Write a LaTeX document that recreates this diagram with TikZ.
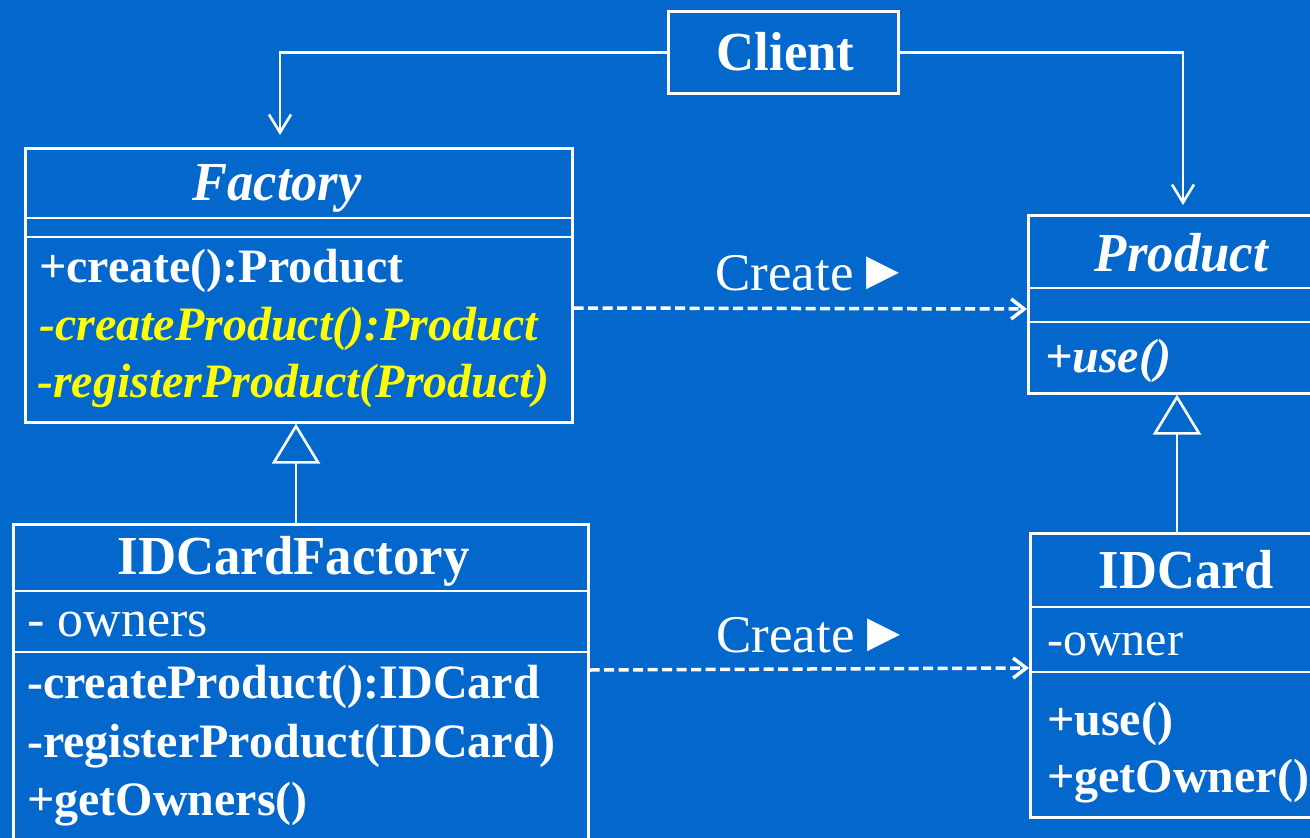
\documentclass[tikz,border=0pt]{standalone}
\usepackage{fontspec}
\usepackage{graphicx}
\setmainfont{Liberation Serif}
\newfontfamily\symfont{DejaVu Sans}
\usetikzlibrary{arrows.meta}
\definecolor{bg}{RGB}{3,103,204}
\definecolor{yel}{RGB}{255,255,0}
\newcommand{\rtri}{\raisebox{6pt}{\symfont\fontsize{43}{43}\selectfont ▶}}
\begin{document}
\begin{tikzpicture}[x=1pt,y=-1pt,
  box/.style={draw=white, line width=2.6pt, inner sep=0pt, anchor=north west},
  sep/.style={draw=white, line width=2.6pt},
  ttl/.style={font=\fontsize{55}{60}\selectfont\bfseries, text=white, anchor=base, inner sep=0pt},
  meth/.style={font=\fontsize{48}{56}\selectfont\bfseries, text=white, anchor=base west, inner sep=0pt},
  absmeth/.style={meth, font=\fontsize{48}{56}\selectfont\bfseries\itshape, text=yel},
  attr/.style={font=\fontsize{52}{60}\selectfont, text=white, anchor=base west, inner sep=0pt},
  lbl/.style={font=\fontsize{53}{60}\selectfont, text=white, anchor=base west, inner sep=0pt},
  assoc/.style={draw=white, line width=2.6pt, -{Straight Barb[length=18pt,width=22pt]}},
  dep/.style={draw=white, line width=3.5pt, dash pattern=on 10pt off 4.5pt, -{Straight Barb[length=13pt,width=20pt]}},
  inherit/.style={draw=white, line width=2.6pt, -{Triangle[open,length=40pt,width=48pt]}}
]
\useasboundingbox (0,0) rectangle (1310,838);
\fill[bg] (0,0) rectangle (1310,838);
\clip (0,0) rectangle (1310,838);

% Client
\node[box, minimum width=230pt, minimum height=82pt] (client) at (667,10) {};
\node[ttl] (clientt) at (785.5,70) {\scalebox{0.96}[1]{Client}};

% Factory
\node[box, minimum width=547pt, minimum height=274pt] (factory) at (24,147) {};
\draw[sep] (factory.west |- 0,218) -- (factory.east |- 0,218);
\draw[sep] (factory.west |- 0,237) -- (factory.east |- 0,237);
\node[ttl, font=\fontsize{55}{60}\selectfont\bfseries\itshape] (factoryt) at (277,200) {\scalebox{0.955}[1]{Factory}};
\node[meth] (f1) at (39,282) {+create():Product};
\node[absmeth] (f2) at (39,340) {-createProduct():Product};
\node[absmeth] (f3) at (37,397) {-registerProduct(Product)};

% IDCardFactory
\node[box, minimum width=575pt, minimum height=335pt] (idf) at (12,523) {};
\draw[sep] (idf.west |- 0,591) -- (idf.east |- 0,591);
\draw[sep] (idf.west |- 0,652) -- (idf.east |- 0,652);
\node[ttl] (idft) at (293.5,574) {\scalebox{0.96}[1]{IDCardFactory}};
\node[attr] (idfa) at (27,636) {- owners};
\node[meth] (idf1) at (27,698) {-createProduct():IDCard};
\node[meth] (idf2) at (27,757) {-registerProduct(IDCard)};
\node[meth] (idf3) at (27,815) {+getOwners()};

% Product
\node[box, minimum width=308pt, minimum height=178pt] (product) at (1027,214) {};
\draw[sep] (product.west |- 0,288) -- (product.east |- 0,288);
\draw[sep] (product.west |- 0,322) -- (product.east |- 0,322);
\node[ttl, font=\fontsize{55}{60}\selectfont\bfseries\itshape] (productt) at (1181.5,271) {\scalebox{0.96}[1]{Product}};
\node[meth, font=\fontsize{48}{56}\selectfont\bfseries\itshape] (p1) at (1045,372) {+use()};

% IDCard
\node[box, minimum width=314pt, minimum height=284pt] (idcard) at (1029,532) {};
\draw[sep] (idcard.west |- 0,607) -- (idcard.east |- 0,607);
\draw[sep] (idcard.west |- 0,672) -- (idcard.east |- 0,672);
\node[ttl] (idcardt) at (1186.5,588) {\scalebox{0.955}[1]{IDCard}};
\node[attr, font=\fontsize{48}{56}\selectfont] (ida) at (1047,655) {-owner};
\node[meth] (id1) at (1047,735) {+use()};
\node[meth] (id2) at (1047,792) {+getOwner()};

% associations from Client
\coordinate (fa) at (280,135);
\coordinate (pa) at (1183,205);
\draw[assoc] (client.west) -| (fa);
\draw[assoc] (client.east) -| (pa);

% dependencies
\draw[dep] (factory.east |- 0,308) -- (product.west |- 0,309);
\node[lbl] (c1) at (715,290) {Create \rtri};
\draw[dep] (idf.east |- 0,670) -- (idcard.west |- 0,668);
\node[lbl] (c2) at (716,652) {Create \rtri};

% inheritance
\draw[inherit] (idf.north -| 296,0) -- (factory.south -| 296,0);
\draw[inherit] (idcard.north -| 1177,0) -- (product.south -| 1177,0);
\end{tikzpicture}
\end{document}
